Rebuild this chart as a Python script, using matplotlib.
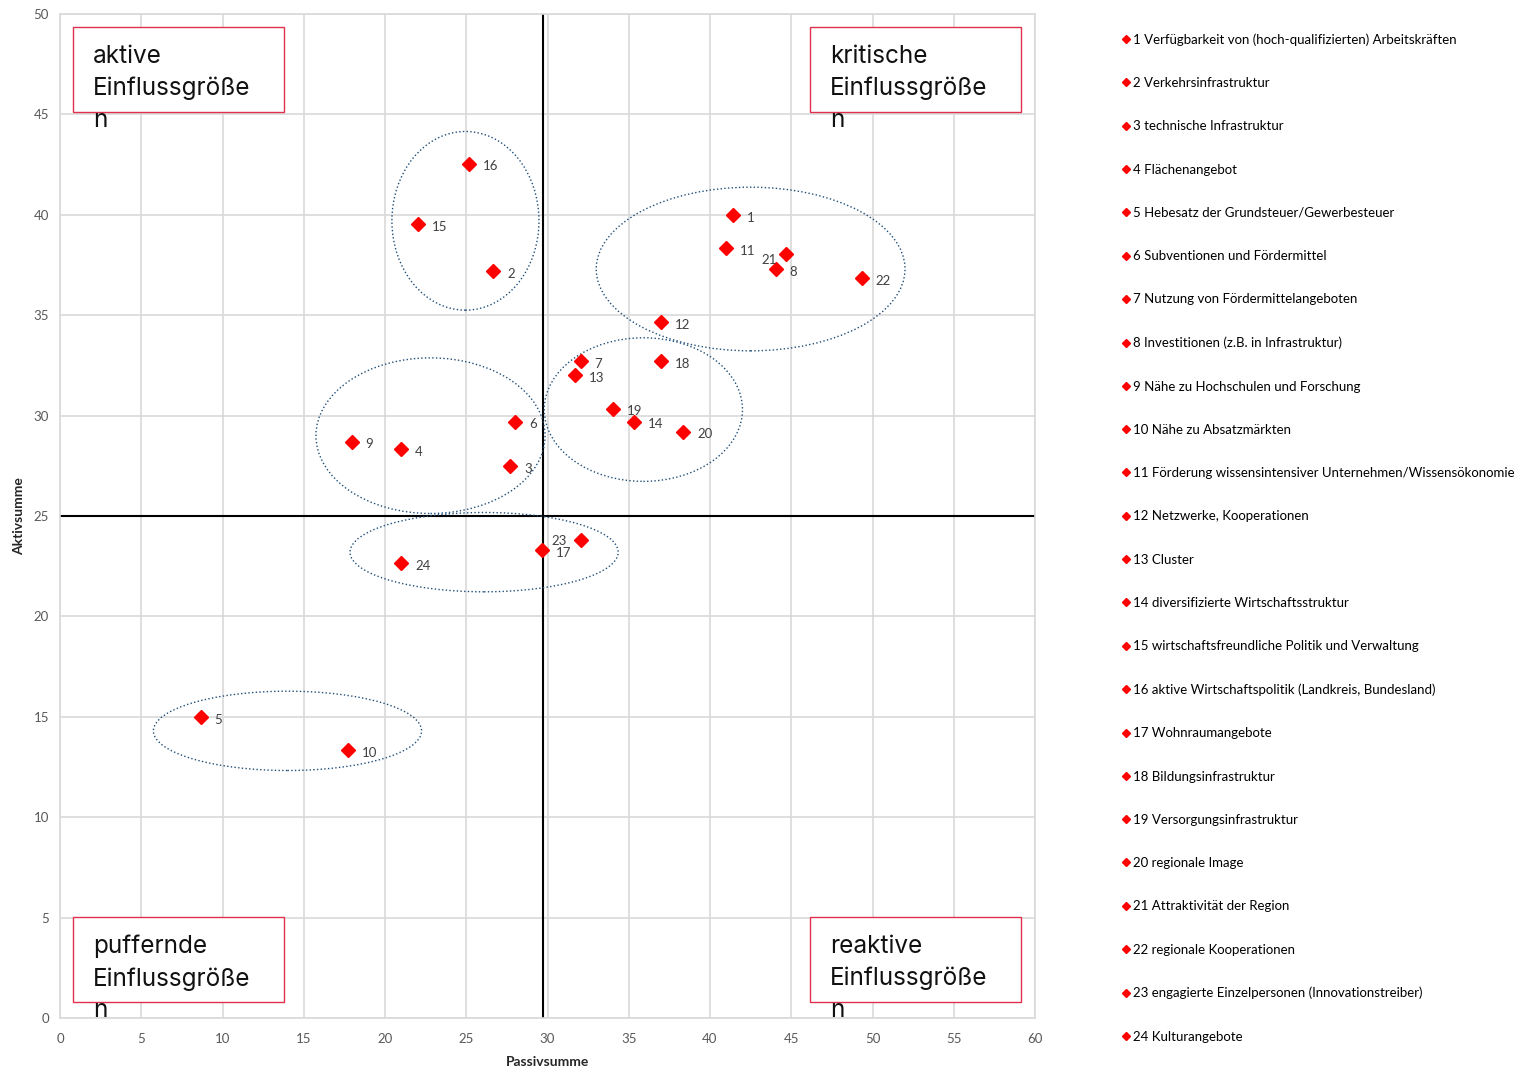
import matplotlib.pyplot as plt
from matplotlib.patches import Ellipse, Rectangle

# data
ids = list(range(1, 25))
passiv = [41.4, 26.65, 27.7, 21.0, 8.65, 28.0, 32.05, 44.05, 17.95, 17.7, 41.0, 37.0,
          31.7, 35.35, 22.0, 25.15, 29.65, 37.0, 34.0, 38.35, 44.7, 49.35, 32.05, 21.0]
aktiv = [40.0, 37.2, 27.5, 28.35, 15.0, 29.7, 32.7, 37.3, 28.7, 13.35, 38.35, 34.65,
         32.0, 29.7, 39.55, 42.55, 23.3, 32.7, 30.35, 29.2, 38.05, 36.85, 23.8, 22.65]
names = ["Verfügbarkeit von (hoch-qualifizierten) Arbeitskräften",
         "Verkehrsinfrastruktur",
         "technische Infrastruktur",
         "Flächenangebot",
         "Hebesatz der Grundsteuer/Gewerbesteuer",
         "Subventionen und Fördermittel",
         "Nutzung von Fördermittelangeboten",
         "Investitionen (z.B. in Infrastruktur)",
         "Nähe zu Hochschulen und Forschung",
         "Nähe zu Absatzmärkten",
         "Förderung wissensintensiver Unternehmen/Wissensökonomie",
         "Netzwerke, Kooperationen",
         "Cluster",
         "diversifizierte Wirtschaftsstruktur",
         "wirtschaftsfreundliche Politik und Verwaltung",
         "aktive Wirtschaftspolitik (Landkreis, Bundesland)",
         "Wohnraumangebote",
         "Bildungsinfrastruktur",
         "Versorgungsinfrastruktur",
         "regionale Image",
         "Attraktivität der Region",
         "regionale Kooperationen",
         "engagierte Einzelpersonen (Innovationstreiber)",
         "Kulturangebote"]

# cluster ellipses: centre x, centre y, width, height
ell_cx = [24.95, 42.5, 35.9, 22.8, 26.1, 14.0]
ell_cy = [39.7, 37.3, 30.3, 29.0, 23.2, 14.3]
ell_w = [9.05, 19.0, 12.2, 14.1, 16.5, 16.5]
ell_h = [8.9, 8.15, 7.15, 7.75, 3.95, 3.95]

quadrants = ["aktive\nEinflussgröße\nn", "kritische\nEinflussgröße\nn",
             "puffernde\nEinflussgröße\nn", "reaktive\nEinflussgröße\nn"]

x_split = 29.75
y_split = 25

plt.rcParams['font.family'] = ['Lato', 'DejaVu Sans']

fig = plt.figure(figsize=(15.3, 10.69), dpi=100)
ax = fig.add_axes([60 / 1530, 1 - 1018 / 1069, 975 / 1530, 1004 / 1069])

for i in range(len(ids)):
    ax.plot(passiv[i], aktiv[i], linestyle="none", marker="D", markersize=7.5,
            color="#ff0000", label="%d %s" % (ids[i], names[i]), zorder=4)
    dx, dy, ha = 10, -2, "left"
    if ids[i] == 21:
        dx, dy, ha = -7, -4, "right"
    if ids[i] == 23:
        dx, dy, ha = -10, -0.5, "right"
    ax.annotate(str(ids[i]), (passiv[i], aktiv[i]), xytext=(dx, dy),
                textcoords="offset points", ha=ha, va="center",
                fontsize=9.5, color="#404040", zorder=5)

for i in range(len(ell_cx)):
    ax.add_patch(Ellipse((ell_cx[i], ell_cy[i]), ell_w[i], ell_h[i], fill=False,
                         edgecolor="#1f4e79", linestyle=":", linewidth=1.0, zorder=3))

ax.axvline(x_split, color="black", linewidth=1.5, zorder=2)
ax.axhline(y_split, color="black", linewidth=1.5, zorder=2)

ax.set_xlim(0, 60)
ax.set_ylim(0, 50)
ax.set_xticks(range(0, 61, 5))
ax.set_yticks(range(0, 51, 5))
ax.grid(True, color="#d9d9d9", linewidth=1.2)
ax.set_axisbelow(True)
for s in ax.spines.values():
    s.set_color("#d9d9d9")
    s.set_linewidth(1.2)
ax.tick_params(length=0, labelsize=9.5, labelcolor="#595959")
ax.tick_params(axis="x", pad=11)
ax.tick_params(axis="y", pad=8)
ax.set_xlabel("Passivsumme", fontsize=10, fontweight="bold", color="#262626", labelpad=8)
ax.set_ylabel("Aktivsumme", fontsize=10, fontweight="bold", color="#262626", labelpad=6)

# quadrant boxes (pixel positions of the original)
box_x = [73, 810, 73, 810]
box_y = [27, 27, 917, 917]
for i in range(4):
    fig.add_artist(Rectangle((box_x[i] / 1530, 1 - (box_y[i] + 85) / 1069),
                             211 / 1530, 85 / 1069, transform=fig.transFigure,
                             facecolor="white", edgecolor="#e0304e", linewidth=1.0, zorder=6))
    fig.text((box_x[i] + 20) / 1530, 1 - (box_y[i] + 18) / 1069, quadrants[i],
             fontsize=17.5, family=["Inter", "DejaVu Sans"], color="#111111",
             va="top", ha="left", linespacing=1.47, zorder=7)

fig.legend(loc="upper left", bbox_to_anchor=(1116 / 1530, 1 - 28 / 1069),
           frameon=False, fontsize=9.5, markerscale=0.55, handlelength=0.7,
           handletextpad=0.2, labelspacing=2.37, borderaxespad=0)

fig.savefig("out.png", dpi=100)
